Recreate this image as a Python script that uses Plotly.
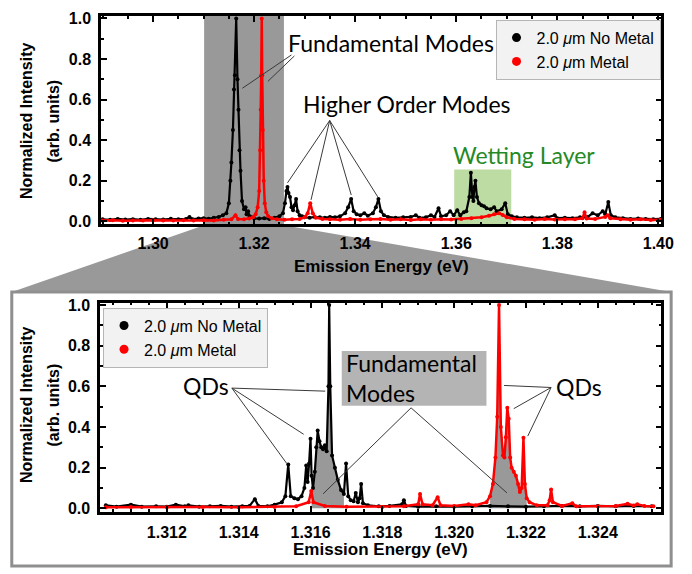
import plotly.graph_objects as go

W, H = 692, 574

# ---------------- data: top panel (wide scan) ----------------
top_black_x = [1.2900, 1.2915, 1.2930, 1.2945, 1.2960, 1.2975, 1.2990, 1.3005, 1.3020, 1.3035,
               1.3050, 1.3065, 1.3072, 1.3078, 1.3090, 1.3100, 1.3110, 1.3120, 1.3130, 1.3138,
               1.3145, 1.3150, 1.3153, 1.3155, 1.3158, 1.3160, 1.3162, 1.31645, 1.3167, 1.3169,
               1.3171, 1.3173, 1.3176, 1.3180, 1.3183, 1.3185, 1.3188, 1.3191,
               1.3195, 1.3200, 1.3210, 1.3220, 1.3230, 1.3240, 1.3250, 1.3257, 1.3261, 1.3264,
               1.3266, 1.3268, 1.3271, 1.3274, 1.3277, 1.3280, 1.3283, 1.3286, 1.3290, 1.3295,
               1.3300, 1.3310, 1.3320, 1.3330, 1.3340, 1.3350, 1.3360, 1.3370, 1.3380, 1.3386,
               1.3392, 1.3397, 1.3403, 1.3410, 1.3418, 1.3425, 1.3435, 1.3441, 1.3446, 1.3451,
               1.3457, 1.3465, 1.3480, 1.3495, 1.3510, 1.3520, 1.3527, 1.3540, 1.3550, 1.3557,
               1.3565, 1.3570, 1.3580, 1.3588, 1.3595, 1.3602, 1.3608, 1.3615, 1.3620, 1.3626,
               1.3629, 1.3632, 1.3634, 1.3636, 1.3638, 1.3641, 1.3645, 1.3650, 1.3655, 1.3660,
               1.3668, 1.3675, 1.3680, 1.3690, 1.3697, 1.3702, 1.3710, 1.3720, 1.3735, 1.3750,
               1.3765, 1.3780, 1.3795, 1.3800, 1.3815, 1.3830, 1.3845, 1.3860, 1.3870, 1.3880,
               1.3890, 1.3895, 1.3901, 1.3906, 1.3915, 1.3930, 1.3945, 1.3960, 1.3975, 1.3990,
               1.4005]
top_black_y = [0.010, 0.008, 0.012, 0.009, 0.011, 0.008, 0.012, 0.010, 0.009, 0.013,
               0.010, 0.012, 0.022, 0.011, 0.014, 0.016, 0.013, 0.018, 0.022, 0.030,
               0.040, 0.090, 0.200, 0.290, 0.450, 0.650, 0.720, 1.000, 0.700, 0.550,
               0.350, 0.250, 0.100, 0.060, 0.070, 0.035, 0.050, 0.025,
               0.020, 0.015, 0.014, 0.016, 0.012, 0.018, 0.025, 0.040, 0.090, 0.150,
               0.170, 0.140, 0.120, 0.070, 0.055, 0.080, 0.110, 0.050, 0.030, 0.025,
               0.020, 0.018, 0.022, 0.020, 0.018, 0.022, 0.020, 0.025, 0.040, 0.070,
               0.110, 0.050, 0.035, 0.030, 0.040, 0.028, 0.040, 0.070, 0.110, 0.050,
               0.030, 0.022, 0.018, 0.020, 0.022, 0.030, 0.018, 0.020, 0.030, 0.022,
               0.065, 0.025, 0.030, 0.050, 0.030, 0.055, 0.030, 0.045, 0.050, 0.120,
               0.240, 0.120, 0.100, 0.170, 0.200, 0.120, 0.090, 0.080, 0.075, 0.065,
               0.060, 0.070, 0.050, 0.060, 0.090, 0.035, 0.025, 0.020, 0.018, 0.020,
               0.016, 0.020, 0.030, 0.016, 0.018, 0.016, 0.020, 0.022, 0.040, 0.030,
               0.050, 0.035, 0.095, 0.030, 0.020, 0.015, 0.012, 0.014, 0.012, 0.011,
               0.012]

top_red_x = [1.2900, 1.2920, 1.2940, 1.2960, 1.2980, 1.3000, 1.3020, 1.3040, 1.3060, 1.3080,
             1.3100, 1.3120, 1.3140, 1.3155, 1.3163, 1.3168, 1.3180, 1.3190, 1.3198, 1.3203,
             1.3207, 1.3210, 1.3212, 1.3213, 1.3214, 1.3215, 1.3216, 1.3217, 1.3219, 1.3221,
             1.3224, 1.3228, 1.3235, 1.3245, 1.3260, 1.3275, 1.3290, 1.3300, 1.3306, 1.3311,
             1.3316, 1.3322, 1.3335, 1.3350, 1.3370, 1.3390, 1.3410, 1.3430, 1.3450, 1.3470,
             1.3490, 1.3510, 1.3530, 1.3550, 1.3570, 1.3590, 1.3610, 1.3630, 1.3650, 1.3665,
             1.3675, 1.3685, 1.3692, 1.3700, 1.3715, 1.3735, 1.3755, 1.3775, 1.3795, 1.3815,
             1.3835, 1.3850, 1.3854, 1.3858, 1.3875, 1.3895, 1.3900, 1.3905, 1.3925, 1.3945,
             1.3965, 1.3985, 1.4005]
top_red_y = [0.004, 0.006, 0.003, 0.005, 0.004, 0.006, 0.005, 0.004, 0.006, 0.005,
             0.006, 0.005, 0.008, 0.010, 0.030, 0.012, 0.010, 0.014, 0.020, 0.035,
             0.070, 0.150, 0.350, 0.550, 0.720, 1.000, 0.720, 0.450, 0.200, 0.090,
             0.045, 0.025, 0.015, 0.010, 0.008, 0.010, 0.012, 0.020, 0.040, 0.090,
             0.040, 0.018, 0.012, 0.010, 0.008, 0.012, 0.008, 0.010, 0.012, 0.008,
             0.010, 0.007, 0.010, 0.008, 0.011, 0.009, 0.012, 0.015, 0.020, 0.028,
             0.035, 0.040, 0.032, 0.020, 0.012, 0.010, 0.008, 0.012, 0.009, 0.011,
             0.010, 0.015, 0.045, 0.014, 0.012, 0.022, 0.030, 0.015, 0.010, 0.008,
             0.010, 0.007, 0.008]

# ---------------- data: bottom panel (zoom) ----------------
bot_black_x = [1.31030, 1.31060, 1.31100, 1.31130, 1.31170, 1.31200, 1.31225, 1.31250, 1.31260, 1.31290,
               1.31320, 1.31350, 1.31380, 1.31410, 1.31430, 1.31445, 1.31455, 1.31480, 1.31500, 1.31520,
               1.31530, 1.31538, 1.31545, 1.31555, 1.31565, 1.31575, 1.31583, 1.31588, 1.31592, 1.31596,
               1.31600, 1.31603, 1.31607, 1.31612, 1.31616, 1.31620, 1.31625, 1.31630, 1.31635, 1.31640,
               1.31645, 1.31650, 1.31652, 1.31655, 1.31660, 1.31668, 1.31676, 1.31685, 1.31693, 1.31699,
               1.31705, 1.31712, 1.31720, 1.31726, 1.31732, 1.31737, 1.31741, 1.31746, 1.31760, 1.31790,
               1.31820, 1.31855, 1.31860, 1.31866, 1.31900, 1.31950, 1.32000, 1.32050, 1.32100, 1.32150,
               1.32200, 1.32250, 1.32300, 1.32350, 1.32400, 1.32450, 1.32500, 1.32550]
bot_black_y = [0.015, 0.008, 0.018, 0.008, 0.010, 0.008, 0.018, 0.010, 0.015, 0.008,
               0.010, 0.012, 0.008, 0.010, 0.012, 0.045, 0.012, 0.010, 0.018, 0.030,
               0.060, 0.215, 0.060, 0.050, 0.045, 0.060, 0.100, 0.210, 0.130, 0.220,
               0.342, 0.160, 0.100, 0.180, 0.300, 0.382, 0.330, 0.300, 0.290, 0.310,
               0.280, 0.600, 1.000, 0.600, 0.260, 0.200, 0.140, 0.090, 0.070, 0.220,
               0.060, 0.040, 0.035, 0.075, 0.030, 0.050, 0.120, 0.025, 0.015, 0.010,
               0.012, 0.020, 0.040, 0.012, 0.008, 0.010, 0.008, 0.010, 0.012, 0.010,
               0.008, 0.010, 0.012, 0.010, 0.012, 0.010, 0.012, 0.010]

bot_red_x = [1.31030, 1.31100, 1.31200, 1.31300, 1.31400, 1.31500, 1.31560, 1.31595, 1.31602, 1.31608,
             1.31640, 1.31700, 1.31800, 1.31860, 1.31900, 1.31905, 1.31912, 1.31940, 1.31954, 1.31962,
             1.32000, 1.32040, 1.32060, 1.32090, 1.32100, 1.32108, 1.32115, 1.32120, 1.32125, 1.32130,
             1.32136, 1.32140, 1.32144, 1.32148, 1.32152, 1.32156, 1.32160, 1.32166, 1.32172, 1.32178,
             1.32183, 1.32188, 1.32193, 1.32197, 1.32202, 1.32210, 1.32230, 1.32260, 1.32266, 1.32270,
             1.32275, 1.32300, 1.32329, 1.32340, 1.32400, 1.32450, 1.32483, 1.32500, 1.32510, 1.32530,
             1.32555]
bot_red_y = [0.005, 0.006, 0.005, 0.006, 0.005, 0.007, 0.010, 0.030, 0.085, 0.030,
             0.012, 0.008, 0.007, 0.010, 0.020, 0.070, 0.020, 0.015, 0.055, 0.015,
             0.012, 0.020, 0.015, 0.030, 0.060, 0.120, 0.250, 0.450, 1.000, 0.400,
             0.260, 0.250, 0.350, 0.494, 0.440, 0.250, 0.200, 0.180, 0.160, 0.120,
             0.080, 0.100, 0.347, 0.120, 0.050, 0.030, 0.015, 0.015, 0.040, 0.093,
             0.030, 0.012, 0.025, 0.010, 0.010, 0.012, 0.022, 0.014, 0.020, 0.012,
             0.010]

# fundamental-mode spans shaded grey in the zoom panel
fund_black_span = (1.31603, 1.31693)
fund_red_span = (1.32100, 1.32202)

# tick labels
top_xticks = [1.30, 1.32, 1.34, 1.36, 1.38, 1.40]
bot_xticks = [1.312, 1.314, 1.316, 1.318, 1.320, 1.322, 1.324]
yticks = [0.0, 0.2, 0.4, 0.6, 0.8, 1.0]

# highlighted regions in top panel
zoom_region = (1.3101, 1.3259)
wetting_region = (1.3596, 1.3709, 0.256)

# ---------------- layout geometry ----------------
TOP_XR = [1.2897, 1.4006]
TOP_YR = [-0.0145, 1.013]
BOT_XR = [1.31014, 1.32577]
BOT_YR = [-0.019, 1.011]
TOP_DOM_X = [103 / W, 674 / W]
TOP_DOM_Y = [1 - 223 / H, 1 - 10 / H]
BOT_DOM_X = [102 / W, 674 / W]
BOT_DOM_Y = [1 - 517 / H, 1 - 303 / H]

def px(x):
    return x / W

def py(y):
    return 1 - y / H

def top_x_to_px(x):
    return (TOP_DOM_X[0] + (x - TOP_XR[0]) / (TOP_XR[1] - TOP_XR[0]) * (TOP_DOM_X[1] - TOP_DOM_X[0])) * W

BOLD = "Liberation Sans"
ANN = "Lato"
LINEC = "#3a3a3a"
GRAY = "#999999"

fig = go.Figure()

# fills under fundamental modes (zoom panel)
fx = [x for x in bot_black_x if fund_black_span[0] <= x <= fund_black_span[1]]
fy = [y for x, y in zip(bot_black_x, bot_black_y) if fund_black_span[0] <= x <= fund_black_span[1]]
fig.add_trace(go.Scatter(x=fx, y=fy, fill="tozeroy", fillcolor=GRAY, mode="none",
                         xaxis="x2", yaxis="y2", showlegend=False, hoverinfo="skip"))
rx = [x for x in bot_red_x if fund_red_span[0] <= x <= fund_red_span[1]]
ry = [y for x, y in zip(bot_red_x, bot_red_y) if fund_red_span[0] <= x <= fund_red_span[1]]
fig.add_trace(go.Scatter(x=rx, y=ry, fill="tozeroy", fillcolor=GRAY, mode="none",
                         xaxis="x2", yaxis="y2", showlegend=False, hoverinfo="skip"))

line_kw = dict(mode="lines+markers", showlegend=False)
fig.add_trace(go.Scatter(x=top_black_x, y=top_black_y, line=dict(color="black", width=2.2),
                         marker=dict(color="black", size=4), xaxis="x", yaxis="y", **line_kw))
fig.add_trace(go.Scatter(x=top_red_x, y=top_red_y, line=dict(color="#ff0000", width=2.5),
                         marker=dict(color="#ff0000", size=4), xaxis="x", yaxis="y", **line_kw))
fig.add_trace(go.Scatter(x=bot_black_x, y=bot_black_y, line=dict(color="black", width=2.2),
                         marker=dict(color="black", size=4), xaxis="x2", yaxis="y2", **line_kw))
fig.add_trace(go.Scatter(x=bot_red_x, y=bot_red_y, line=dict(color="#ff0000", width=2.5),
                         marker=dict(color="#ff0000", size=4), xaxis="x2", yaxis="y2", **line_kw))

# legend entries
names = ["2.0 <i>μ</i>m No Metal", "2.0 <i>μ</i>m Metal"]
colors = ["black", "#ff0000"]
for lg, xa, ya in [("legend", "x", "y"), ("legend2", "x2", "y2")]:
    for n, c in zip(names, colors):
        fig.add_trace(go.Scatter(x=[None], y=[None], mode="markers", name=n,
                                 marker=dict(color=c, size=9), xaxis=xa, yaxis=ya, legend=lg))

axis_common = dict(showline=True, linewidth=2.5, linecolor="black", mirror="ticks",
                   ticks="inside", ticklen=6, tickwidth=2, tickcolor="black",
                   showgrid=False, zeroline=False,
                   tickfont=dict(family=BOLD, size=16, color="black"))

def bold(s):
    return f"<b>{s}</b>"

fig.update_layout(
    width=W, height=H, margin=dict(l=0, r=0, t=0, b=0),
    paper_bgcolor="white", plot_bgcolor="white",
    xaxis=dict(domain=TOP_DOM_X, anchor="y", range=TOP_XR, tickvals=top_xticks,
               ticktext=[bold(f"{v:.2f}") for v in top_xticks], ticklabelstandoff=3,
               minor=dict(ticks="inside", ticklen=3, tickwidth=1.5, dtick=0.005, tick0=1.30, tickcolor="black"),
               **axis_common),
    yaxis=dict(domain=TOP_DOM_Y, anchor="x", range=TOP_YR, tickvals=yticks,
               ticktext=[bold(f"{v:.1f}") for v in yticks], ticklabelstandoff=4,
               minor=dict(ticks="inside", ticklen=3, tickwidth=1.5, dtick=0.1, tick0=0, tickcolor="black"),
               **axis_common),
    xaxis2=dict(domain=BOT_DOM_X, anchor="y2", range=BOT_XR, tickvals=bot_xticks,
                ticktext=[bold(f"{v:.3f}") for v in bot_xticks], ticklabelstandoff=4,
                minor=dict(ticks="inside", ticklen=3, tickwidth=1.5, dtick=0.0005, tick0=1.312, tickcolor="black"),
                **axis_common),
    yaxis2=dict(domain=BOT_DOM_Y, anchor="x2", range=BOT_YR, tickvals=yticks,
                ticktext=[bold(f"{v:.1f}") for v in yticks], ticklabelstandoff=4,
                minor=dict(ticks="inside", ticklen=3, tickwidth=1.5, dtick=0.1, tick0=0, tickcolor="black"),
                **axis_common),
    legend=dict(x=px(505), y=py(14), xanchor="left", yanchor="top", bgcolor="#f2f2f2",
                bordercolor="#b5b5b5", borderwidth=1, font=dict(family=BOLD, size=16, color="black"),
                itemwidth=30, tracegroupgap=0),
    legend2=dict(x=px(105), y=py(308), xanchor="left", yanchor="top", bgcolor="#f2f2f2",
                 bordercolor="#b5b5b5", borderwidth=1, font=dict(family=BOLD, size=16, color="black"),
                 itemwidth=30, tracegroupgap=0),
)

shapes = []
# trapezoid connecting zoom region to the lower panel
xl, xr = top_x_to_px(zoom_region[0]), top_x_to_px(zoom_region[1])
path = (f"M {px(xl)},{py(224)} L {px(xr)},{py(224)} L {px(684)},{py(292)} "
        f"L {px(12)},{py(292)} Z")
shapes.append(dict(type="path", path=path, xref="paper", yref="paper",
                   fillcolor=GRAY, line=dict(width=0), layer="below"))
# lower panel frame
shapes.append(dict(type="rect", xref="paper", yref="paper", x0=px(12), x1=px(684), y0=py(572), y1=py(292),
                   line=dict(color="#8f8f8f", width=3), fillcolor="rgba(0,0,0,0)", layer="below"))
# grey zoom band in top panel
shapes.append(dict(type="rect", xref="x", yref="y domain", x0=zoom_region[0], x1=zoom_region[1], y0=0, y1=1,
                   fillcolor=GRAY, line=dict(width=0), layer="below"))
# wetting-layer box
shapes.append(dict(type="rect", xref="x", yref="y", x0=wetting_region[0], x1=wetting_region[1],
                   y0=TOP_YR[0], y1=wetting_region[2], fillcolor="rgb(189,220,163)",
                   line=dict(width=0), layer="below"))
# grey box behind "Fundamental Modes" in zoom panel
shapes.append(dict(type="rect", xref="x2", yref="y2", x0=1.31687, x1=1.32090, y0=0.504, y1=0.774,
                   fillcolor="rgb(180,180,180)", line=dict(width=0), layer="above"))

# pointer lines (data coordinates)
top_ptrs = [(1.32738, 0.820, 1.31767, 0.656), (1.32796, 0.815, 1.32272, 0.690),
            (1.33495, 0.497, 1.32660, 0.190), (1.33495, 0.497, 1.33126, 0.106),
            (1.33495, 0.497, 1.33922, 0.130), (1.33495, 0.497, 1.34447, 0.121)]
for x0, y0, x1, y1 in top_ptrs:
    shapes.append(dict(type="line", xref="x", yref="y", x0=x0, y0=y0, x1=x1, y1=y1,
                       line=dict(color=LINEC, width=1)))
bot_ptrs = [(1.31381, 0.591, 1.31534, 0.220), (1.31381, 0.591, 1.31581, 0.364),
            (1.31381, 0.591, 1.31641, 0.576),
            (1.31880, 0.494, 1.31635, 0.071), (1.31880, 0.494, 1.32147, 0.076),
            (1.32270, 0.594, 1.32139, 0.604), (1.32270, 0.594, 1.32166, 0.490),
            (1.32270, 0.594, 1.32205, 0.355)]
for x0, y0, x1, y1 in bot_ptrs:
    shapes.append(dict(type="line", xref="x2", yref="y2", x0=x0, y0=y0, x1=x1, y1=y1,
                       line=dict(color=LINEC, width=1)))
fig.update_layout(shapes=shapes)

ann = []
def label(text, x, y, xref, yref, size=23, color="black", xanchor="center", align="center"):
    ann.append(dict(text=text, x=x, y=y, xref=xref, yref=yref, showarrow=False, align=align,
                    xanchor=xanchor, yanchor="middle", font=dict(family=ANN, size=size, color=color)))

label("Fundamental Modes", 1.34718, 0.878, "x", "y")
label("Higher Order Modes", 1.3503, 0.579, "x", "y")
label("Wetting Layer", 1.3734, 0.328, "x", "y", color="#258a25")
label("QDs", 1.31309, 0.600, "x2", "y2")
label("QDs", 1.32347, 0.596, "x2", "y2")
label("Fundamental<br>Modes", 1.31694, 0.642, "x2", "y2", size=23, xanchor="left", align="left")

# axis titles
for yc in (117, 407):
    ann.append(dict(text="<b>Normalized Intensity</b>", x=px(27), y=py(yc), xref="paper", yref="paper",
                    showarrow=False, textangle=-90, xanchor="center", yanchor="middle",
                    font=dict(family=BOLD, size=16, color="black")))
    ann.append(dict(text="<b>(arb. units)</b>", x=px(55), y=py(yc), xref="paper", yref="paper",
                    showarrow=False, textangle=-90, xanchor="center", yanchor="middle",
                    font=dict(family=BOLD, size=16, color="black")))
for xc, yc in ((389, 266), (388, 555)):
    ann.append(dict(text="<b>Emission Energy (eV)</b>", x=px(xc), y=py(yc), xref="paper", yref="paper",
                    showarrow=False, xanchor="center", yanchor="middle",
                    font=dict(family=BOLD, size=17, color="black")))
fig.update_layout(annotations=ann)

fig.write_html("out.html")
